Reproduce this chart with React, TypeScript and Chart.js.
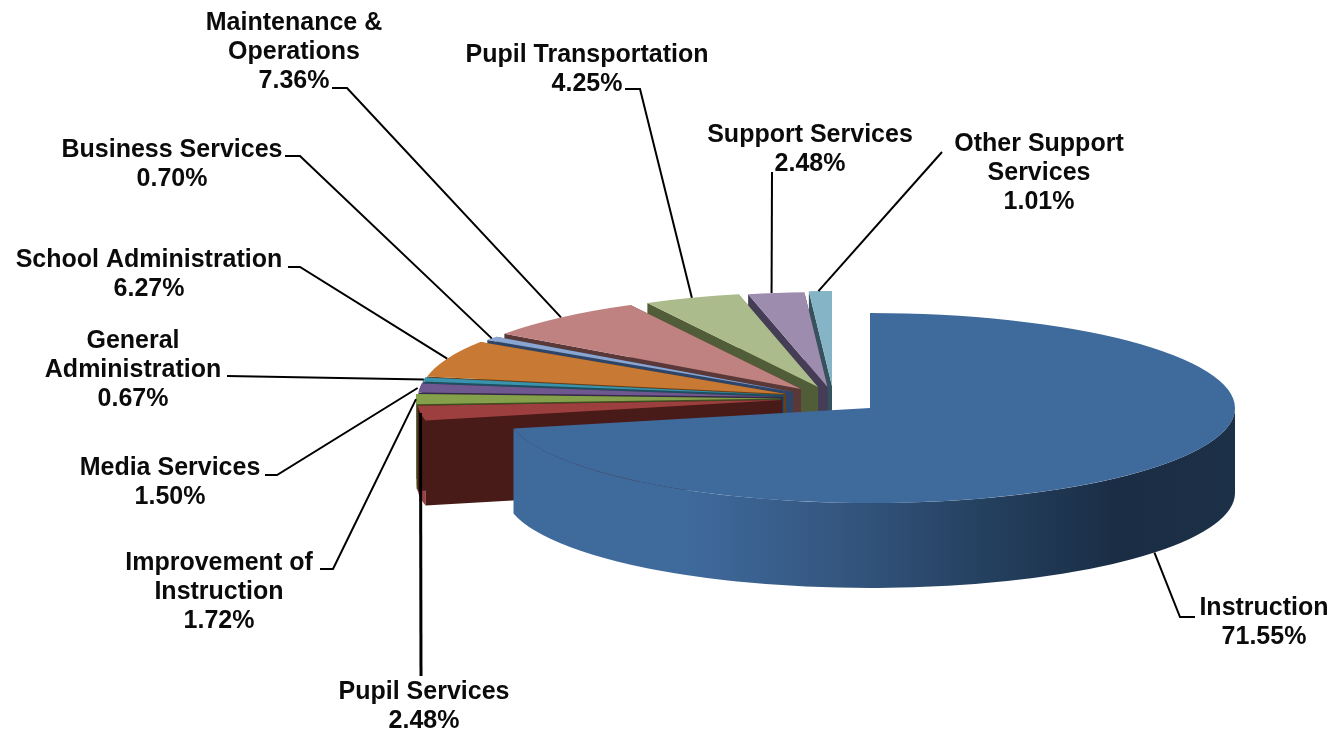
import React, { useEffect, useRef } from "react";
import { Chart, registerables } from "chart.js";

Chart.register(...registerables);

const categories = [
  "Instruction", "Pupil Services", "Improvement of Instruction", "Media Services",
  "General Administration", "School Administration", "Business Services",
  "Maintenance & Operations", "Pupil Transportation", "Support Services", "Other Support Services",
];
const shares = [71.55, 2.48, 1.72, 1.5, 0.67, 6.27, 0.7, 7.36, 4.25, 2.48, 1.01];
const topColors = ["#3f6a9c", "#9c3f3e", "#84a04a", "#6f5790", "#3a93ac", "#c87a35", "#8aa5cf", "#c08281", "#abbb8b", "#9d8cad", "#85b4c6"];
const sideColors = ["#1a2d45", "#481b19", "#3f4d22", "#352a48", "#1f4f5e", "#6b3f14", "#2f4568", "#5a3837", "#505d38", "#453c56", "#35525e"];

// Layout only: where each exploded slice sits, how its label wraps, and where its text and leader elbow go.
const sliceApex: [number, number][] = [
  [870, 408], [782, 400], [781, 398.5], [783, 397], [784, 395], [786, 394],
  [793, 392], [801, 389], [818, 387], [827.5, 387], [832, 386],
];
const labelLines = [
  ["Instruction"], ["Pupil Services"], ["Improvement of", "Instruction"], ["Media Services"],
  ["General", "Administration"], ["School Administration"], ["Business Services"],
  ["Maintenance &", "Operations"], ["Pupil Transportation"], ["Support Services"], ["Other Support", "Services"],
];
const labelCenter: [number, number][] = [
  [1264, 608], [424, 692], [219, 563], [170, 468], [133, 341], [149, 260],
  [172, 150], [294, 23], [587, 55], [810, 135], [1039, 144],
];
const leaderStart: [number, number][][] = [
  [[1195, 617], [1180, 617]], [[421, 676]], [[320, 569], [333, 569]], [[265, 475], [277, 475]],
  [[227, 376]], [[288, 267], [300, 267]], [[285, 156], [300, 156]], [[332, 88], [347, 88]],
  [[625, 89], [640, 89]], [[772, 172]], [[942, 152]],
];
const leaderEndNudge = [0, 0, 0, -2, 0, 0, 0, 0, 0, -4.5, -2];

const FLATTEN = 95 / 365;
const DEPTH = 85;
const LINE_HEIGHT = 29.3;
const FONT = "bold 25px 'Liberation Sans', Arial, sans-serif";

const pie3d = {
  id: "pie3d",
  beforeDatasetDraw(chart: any) {
    const ctx: CanvasRenderingContext2D = chart.ctx;
    const arcs: any[] = chart.getDatasetMeta(0).data;
    // Paint back to front: last slice first, the large slice on top.
    const order = arcs.map((_, i) => i).slice(1).reverse().concat(0);
    for (const i of order) {
      const arc = arcs[i];
      const [ax, ay] = sliceApex[i];
      const R = arc.outerRadius;
      const ry = R * FLATTEN;
      const a0 = arc.startAngle;
      const a1 = arc.endAngle;
      const rim = (a: number): [number, number] => [ax + R * Math.cos(a), ay + ry * Math.sin(a)];

      ctx.save();
      // Outer wall: only the front half of the rim can be seen.
      const b0 = Math.max(a0, 0);
      const b1 = Math.min(a1, Math.PI);
      if (b1 > b0) {
        if (i === 0) {
          const g = ctx.createLinearGradient(ax - R, 0, ax + R, 0);
          g.addColorStop(0, "#3f6a9c");
          g.addColorStop(0.25, "#3f6a9c");
          g.addColorStop(0.46, "#34567f");
          g.addColorStop(0.66, "#24405f");
          g.addColorStop(0.84, "#1a2d45");
          g.addColorStop(1, "#1c3048");
          ctx.fillStyle = g;
        } else {
          ctx.fillStyle = topColors[i];
        }
        ctx.beginPath();
        ctx.ellipse(ax, ay, R, ry, 0, b0, b1);
        ctx.ellipse(ax, ay + DEPTH, R, ry, 0, b1, b0, true);
        ctx.closePath();
        ctx.fill();
      }
      // Cut faces.
      if (i !== 0) {
        ctx.fillStyle = sideColors[i];
        for (const a of [a1, a0]) {
          const [x, y] = rim(a);
          ctx.beginPath();
          ctx.moveTo(ax, ay);
          ctx.lineTo(x, y);
          ctx.lineTo(x, y + DEPTH);
          ctx.lineTo(ax, ay + DEPTH);
          ctx.closePath();
          ctx.fill();
        }
      }
      ctx.restore();

      ctx.save();
      ctx.translate(ax, ay);
      ctx.scale(1, FLATTEN);
      ctx.translate(-arc.x, -arc.y);
      arc.draw(ctx);
      ctx.restore();
    }
    return false;
  },
  afterDatasetsDraw(chart: any) {
    const ctx: CanvasRenderingContext2D = chart.ctx;
    const arcs: any[] = chart.getDatasetMeta(0).data;
    ctx.save();
    ctx.strokeStyle = "#000";
    ctx.fillStyle = "#0b0b0b";
    ctx.font = FONT;
    ctx.textAlign = "center";
    ctx.textBaseline = "middle";
    arcs.forEach((arc, i) => {
      const [ax, ay] = sliceApex[i];
      const mid = (arc.startAngle + arc.endAngle) / 2;
      const R = arc.outerRadius;
      const endX = ax + R * Math.cos(mid) + leaderEndNudge[i];
      const endY = ay + R * FLATTEN * Math.sin(mid) + (i === 0 ? DEPTH : 0);
      ctx.lineWidth = i === 1 ? 3 : 2;
      ctx.beginPath();
      leaderStart[i].forEach(([x, y], k) => (k === 0 ? ctx.moveTo(x, y) : ctx.lineTo(x, y)));
      ctx.lineTo(endX, endY);
      ctx.stroke();

      const [cx, cy] = labelCenter[i];
      const lines = [...labelLines[i], shares[i].toFixed(2) + "%"];
      lines.forEach((t, k) => ctx.fillText(t, cx, cy + k * LINE_HEIGHT));
    });
    ctx.restore();
  },
};

export default function App() {
  const ref = useRef<HTMLCanvasElement>(null);
  useEffect(() => {
    const chart = new Chart(ref.current!, {
      type: "pie",
      data: {
        labels: categories,
        datasets: [{ data: shares, backgroundColor: topColors, borderWidth: 0, radius: 365 } as any],
      },
      options: {
        animation: false,
        responsive: false,
        devicePixelRatio: 1,
        rotation: 0,
        layout: { padding: 0 },
        plugins: { legend: { display: false }, tooltip: { enabled: false }, title: { display: false } },
      },
      plugins: [pie3d],
    } as any);
    return () => chart.destroy();
  }, []);
  return (
    <div style={{ position: "absolute", left: 0, top: 0, width: 1335, height: 732, background: "#fff" }}>
      <canvas ref={ref} width={1335} height={732} style={{ display: "block" }} />
    </div>
  );
}
